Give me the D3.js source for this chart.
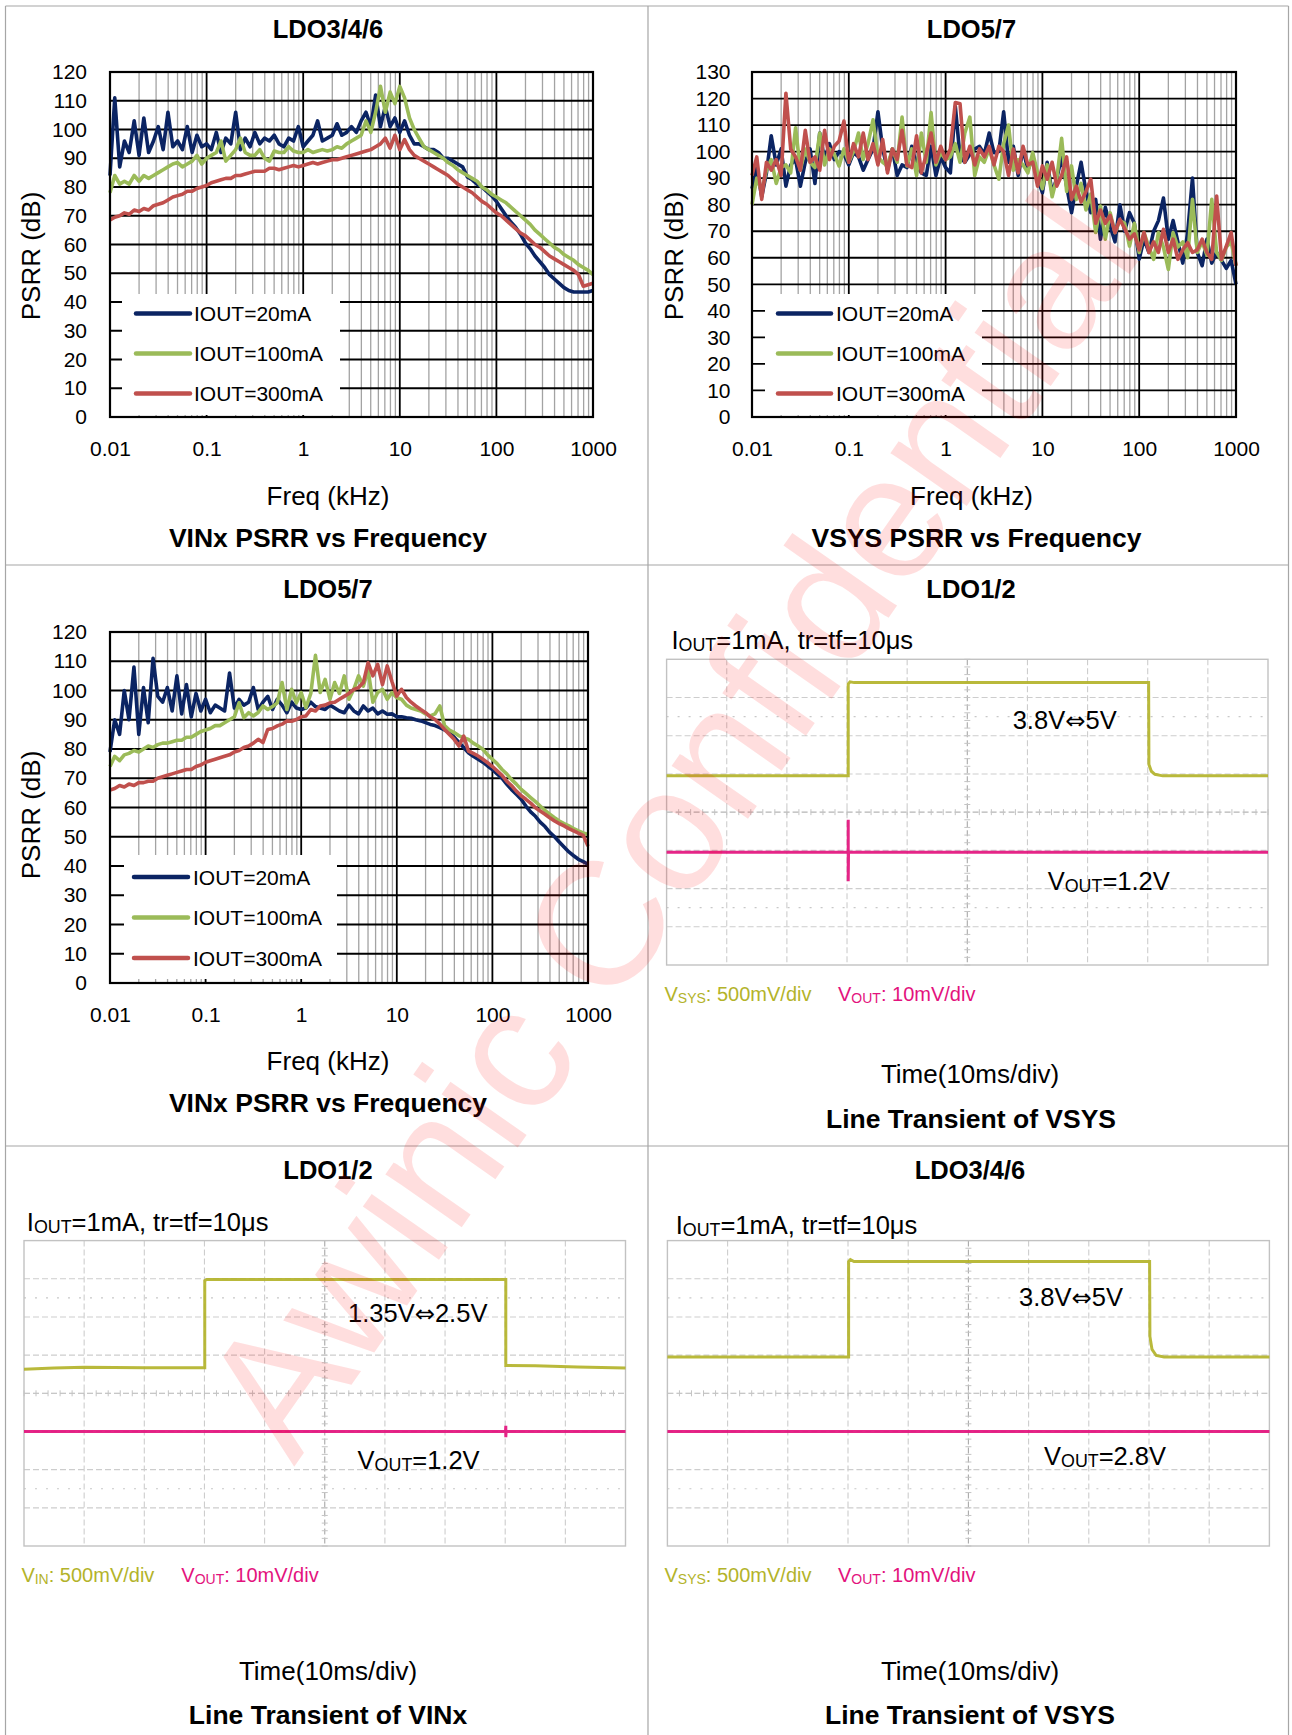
<!DOCTYPE html>
<html>
<head>
<meta charset="utf-8">
<script src="https://cdn.jsdelivr.net/npm/d3@7"></script>
<style>
  body { margin: 0; background: #fff; }
  svg text { font-family: "Liberation Sans", Arial, sans-serif; }
</style>
</head>
<body>
<script>
const W = 1292, H = 1735;

// sweep points of the analyser (kHz), shared by all PSRR plots
const freqKHz = [
  0.01,0.0112,0.0126,0.0141,0.0158,0.0178,0.02,0.0224,0.0251,0.0282,0.0316,0.0355,0.0398,0.0447,0.0501,0.0562,0.0631,0.0708,0.0794,0.0891,
  0.1,0.112,0.126,0.141,0.158,0.178,0.2,0.224,0.251,0.282,0.316,0.355,0.398,0.447,0.501,0.562,0.631,0.708,0.794,0.891,
  1,1.12,1.26,1.41,1.58,1.78,2,2.24,2.51,2.82,3.16,3.55,3.98,4.47,5.01,5.62,6.31,7.08,7.94,8.91,
  10,11.2,12.6,14.1,15.8,17.8,20,22.4,25.1,28.2,31.6,35.5,39.8,44.7,50.1,56.2,63.1,70.8,79.4,89.1,
  100,112,126,141,158,178,200,224,251,282,316,355,398,447,501,562,631,708,794,891,1000
];
const xTickVals = [0.01, 0.1, 1, 10, 100, 1000];
const xTickLabels = ["0.01", "0.1", "1", "10", "100", "1000"];
const seriesNames = ["IOUT=20mA", "IOUT=100mA", "IOUT=300mA"];
const seriesColors = ["#0b2463", "#9bbb59", "#c0504d"];

// LDO3/4/6, VINx PSRR (dB)
const vinx346_20mA = [84,111,87,96,92,103,91,104,92,96, 101,93,106,94,96,93,101,92,98,94, 95,93,99,92,97,95,106,93,97,94,
  99,95,97,96,98,95,94,97,96,101, 94,96,98,103,96,97,98,102,98,99, 101,99,103,106,101,112,101,108,101,104,
  99,103,98,95,95,94,93,93,92,90, 90,89,88,87,83.5,82.5,81,80,78.5,77, 75,72.5,70,67.8,66,63.5,60.5,58.5,56,54,
  52,49.5,48,46.5,45,44,43.5,43.5,43.5,43.5, 44];
const vinx346_100mA = [78,84,81,82,81,84,82,84,83,84, 85,86,87,88,88.5,87,88,89,91,88, 90,91,92,96,89,91,93,97,92,91,
  91,93,90,89,92.5,92,92,94,92.5,92, 92,93,92,92.5,93,92.5,93,94,93.5,95, 96,97,98,103,99,106,115,106,113,109,
  115,111,104,100,97,94,93,92,91,90, 88.5,87.5,86,85,84,83,82,80,79,77.5, 76.5,75.5,74.5,73,71.5,70,68.5,67,65,63.5,
  62,60.5,59,58,56.5,55.5,54.5,53,52,51, 49.5];
const vinx346_300mA = [68.5,69.5,70,71,70.5,72,71.5,72.5,72,73.5, 74,74.5,75.5,76.5,77,77.5,78.5,78.5,79.5,80, 80.5,81.5,82,82.5,83,83,84,84,84.5,85,
  85.5,85.5,85.5,86.5,86.5,86,86.5,87,87.5,87, 87.5,88,88.5,88,88.5,89,89.5,89.5,90,90.5, 91,91.5,92,92.5,93,94,95,97,93.5,98,
  93,96.5,93,91,90,89,88,87,86,85, 84,82.5,81,80,79,78,76.5,75,74,72.5, 71,70,68.5,67,65.5,64,63,61.5,60,59,
  57.5,56,55,54,53,52,51,49.5,45.5,46, 46.5];

// LDO5/7, VSYS PSRR (dB)
const vsys57_20mA = [86,94,83,92,106,95,101,87,95,97, 87,96,101,88,107,97,103,97,100,99, 95,99.6,98,93,97,101,115,101,93,101,
  91,95,94,102,95,92,91,102,91,98, 94,92,117,98,96,99,101,102,99,107, 99.6,100,115,96,102,91,101,93,98,90,
  84.5,96,84.5,90,98,87,77,87,96,85, 77,82,67,79,72,66,80,70,77,73, 59.5,67,62,70,74,82.5,67,74,66,58,
  69,90,62,57,67,58,62,59,56,59, 50];
const vsys57_100mA = [80,90,85,93,97,88,94,95,92,109, 93,101,96,94,107,95,101,99,94.6,101, 96,100,107,97,103,112,98,96,94.6,101,
  96,113,94.6,101,91,107,96,114.7,95,99.6, 97,98,103,96,107,113,91,98,96,101, 95,89.6,103,110,93,97,95,92,99.6,92,
  86,95,83,90,105,85,94.6,82,88,78, 84,69.5,79.5,67,77,69.5,74,73,64.4,73, 62,69.5,64,59.4,69.5,64,55.6,69.5,64,66,
  60,82,62,66,61,82,62,59,64,66, 57];
const vsys57_300mA = [91,98,82,96,93,97,91,122,101,98, 93,108,96,98,93,108,97,102,104,111.5, 96,103,98,107,97,103,95,104.6,92,101,
  97,108,95,94,106,92,99,107,96,102, 97,101,118.5,118,96,102,95,101,98,102, 95,102,100,91,101,92,102,95,96,87,
  94.6,89.6,96,87,91,98,82,87,81,85, 89.6,73,78,73,76,69.5,74.5,71,67,69, 63,69.5,62,66,62,70.7,62,67,59.4,63,
  65.7,62,63,67,62,59.4,83.3,59.4,64.4,69.5, 57];

// LDO5/7, VINx PSRR (dB)
const vinx57_20mA = [79,90,85,100,90,108,85,101,89,111, 98,96,101,93,105,92,102,91,99,93, 97,92.4,95,94,93,106,94,97,95,96,
  101,93.5,96,98,93.5,97,95,92.4,96,94, 93.5,94,96,94.5,94,93.5,95,94,93,92.4, 95,93,92,94.7,93,94,92,93,91.9,92,
  91,91,90.7,90.5,90,89.6,89,88.4,88,87.3, 86.5,85.6,84,82.2,80.5,78.7,77.5,76.5,75.5,74.2, 73,71.5,70,68,66.2,64.5,62.8,60.5,58.5,57,
  55,53.5,51.5,50,48.2,46.5,44.8,43.5,42.3,41.5, 40.6];
const vinx57_100mA = [74,77.5,76,78,78.5,79.5,79,80,81,80.5, 81.5,82,82,82.5,83,83,84,84,85,86, 86.5,87,88,88,89,90,91,95.8,90.7,92.4,
  91.3,92.5,94.7,93.5,94.5,95.8,102.7,93.5,100.4,95.8, 99.3,94.1,99,112,99.3,103.8,97,102.7,99,105, 97,100.4,105,101.5,107,96,99.3,100.4,97,99.3,
  97.5,97,95,94,93.5,93,92,91.3,92,94.7, 88,86.5,85.6,84.5,83.9,83.3,82,81,79.9,78, 76.5,75,73,71.5,69.6,68,66.2,64.8,63.4,62,
  60.5,59,57.7,56.5,55.4,54.5,53.7,52.8,52,51.3, 50.8];
const vinx57_300mA = [66,66.5,67.5,67,68,67.5,68.5,68.5,69,69, 70,70.5,71,71.5,72,72.5,73,73,74,74.5, 75.5,76,76.5,77,77.5,78,79,79.5,80.5,81,
  82,83.3,82.2,86.7,87,87.9,88.5,89.6,89.5,90.1, 91,91.3,93.5,93,94.7,95,95.8,96,97,98, 99,100.4,101,102.7,109.5,105,108.9,102,108.4,103,
  98.1,100.4,97.6,96,94.7,93.5,92.4,91,90.1,88.5, 86.7,85,83.3,81,84.4,79.3,78.5,77.6,76.5,75.3, 74,72.5,71,69,67.5,65.6,64,62.8,61.5,59.9,
  58.8,57.7,56.5,55.4,54.5,53.7,52.8,52,51.2,50.5, 46.8];

// scope captures: [time ms, volts]
const ldo12VsysIn  = [[0,3.8],[30.2,3.8],[30.2,5.0],[30.5,5.03],[31.2,5.02],[80.15,5.02],[80.2,3.95],[80.6,3.86],[81.2,3.82],[82.5,3.8],[100,3.8]];
const ldo12VsysOut = [[0,1.2],[30.2,1.2],[30.2,1.2085],[30.2,1.1924],[30.25,1.2],[100,1.2]];
const ldo12VinIn   = [[0,1.34],[5,1.355],[10,1.365],[20,1.36],[30.05,1.36],[30.05,2.5],[30.4,2.515],[80.1,2.515],[80.1,1.39],[85,1.385],[92,1.37],[100,1.355]];
const ldo12VinOut  = [[0,1.2],[80.05,1.2],[80.1,1.2015],[80.1,1.1985],[80.15,1.2],[100,1.2]];
const ldo346VsysIn = [[0,3.8],[30.1,3.8],[30.1,5.05],[30.4,5.075],[31,5.05],[80.1,5.05],[80.15,4.07],[80.5,3.9],[81.2,3.82],[82.5,3.8],[100,3.8]];
const ldo346VsysOut = [[0,2.8],[100,2.8]];

const yellow = "#b3b32a", magenta = "#e3127d";

const svg = d3.select("body").append("svg").attr("width", W).attr("height", H);
svg.append("rect").attr("width", W).attr("height", H).attr("fill", "#fff");

// table frame
const colX = [5.5, 648, 1288.5], rowY = [6, 565, 1146];
svg.selectAll(".vline").data(colX).join("line")
  .attr("x1", d => d).attr("x2", d => d).attr("y1", 6).attr("y2", H)
  .attr("stroke", "#a6a6a6").attr("stroke-width", 1.2);
svg.selectAll(".hline").data(rowY).join("line")
  .attr("x1", 5.5).attr("x2", 1288.5).attr("y1", d => d).attr("y2", d => d)
  .attr("stroke", "#a6a6a6").attr("stroke-width", 1.2);

const psrrPanels = [
  { title: "LDO3/4/6", caption: "VINx PSRR vs Frequency", yMax: 120,
    series: [vinx346_20mA, vinx346_100mA, vinx346_300mA],
    box: {x0: 110, x1: 593, y0: 72, y1: 417}, titleX: 328, titleY: 38, midX: 328, freqY: 504.5, capX: 328, capY: 547,
    yLab: {x: 40, y: 256}, tickPad: 23,
    legend: {x0: 122, x1: 340, y0: 294, y1: 415, rows: [313.5, 353.5, 393.5], lx0: 136, lx1: 190, tx: 194} },
  { title: "LDO5/7", caption: "VSYS PSRR vs Frequency", yMax: 130,
    series: [vsys57_20mA, vsys57_100mA, vsys57_300mA],
    box: {x0: 752, x1: 1236, y0: 72, y1: 417}, titleX: 971.5, titleY: 38, midX: 971.5, freqY: 504.5, capX: 976.5, capY: 547,
    yLab: {x: 683, y: 256}, tickPad: 21.5,
    legend: {x0: 765, x1: 982, y0: 294, y1: 415, rows: [313.5, 353.5, 393.5], lx0: 778, lx1: 831, tx: 836} },
  { title: "LDO5/7", caption: "VINx PSRR vs Frequency", yMax: 120,
    series: [vinx57_20mA, vinx57_100mA, vinx57_300mA],
    box: {x0: 110, x1: 588, y0: 632, y1: 983}, titleX: 328, titleY: 598, midX: 328, freqY: 1070, capX: 328, capY: 1112,
    yLab: {x: 40, y: 815}, tickPad: 23,
    legend: {x0: 124, x1: 337, y0: 855, y1: 979, rows: [877, 917.5, 958], lx0: 134, lx1: 188, tx: 193} }
];

function isDecade(v) {
  const l = Math.log10(v);
  return Math.abs(l - Math.round(l)) < 1e-9;
}

function drawPsrr(p) {
  const g = svg.append("g");
  const b = p.box;
  const x = d3.scaleLog().domain([0.01, 1000]).range([b.x0, b.x1]);
  const y = d3.scaleLinear().domain([0, p.yMax]).range([b.y1, b.y0]);

  // minor grid (2..9 of each decade)
  g.selectAll(".minor").data(x.ticks().filter(v => !isDecade(v))).join("line")
    .attr("x1", d => x(d)).attr("x2", d => x(d)).attr("y1", b.y0).attr("y2", b.y1)
    .attr("stroke", "#a3a3a3").attr("stroke-width", 1.3);
  // major grid
  g.selectAll(".majx").data(xTickVals).join("line")
    .attr("x1", d => x(d)).attr("x2", d => x(d)).attr("y1", b.y0).attr("y2", b.y1)
    .attr("stroke", "#000").attr("stroke-width", 1.8);
  g.selectAll(".majy").data(y.ticks(p.yMax / 10)).join("line")
    .attr("x1", b.x0).attr("x2", b.x1).attr("y1", d => y(d)).attr("y2", d => y(d))
    .attr("stroke", "#000").attr("stroke-width", 1.8);

  const line = d3.line().x((d, i) => x(freqKHz[i])).y(d => y(d));
  p.series.forEach((s, i) => {
    g.append("path").attr("d", line(s)).attr("fill", "none")
      .attr("stroke", seriesColors[i]).attr("stroke-width", 3.6)
      .attr("stroke-linejoin", "round");
  });

  // legend
  const L = p.legend;
  g.append("rect").attr("x", L.x0).attr("y", L.y0).attr("width", L.x1 - L.x0).attr("height", L.y1 - L.y0)
    .attr("fill", "#fff");
  L.rows.forEach((ry, i) => {
    g.append("line").attr("x1", L.lx0).attr("x2", L.lx1).attr("y1", ry).attr("y2", ry)
      .attr("stroke", seriesColors[i]).attr("stroke-width", 4.5).attr("stroke-linecap", "round");
    g.append("text").attr("x", L.tx).attr("y", ry + 7.5).attr("font-size", 21).text(seriesNames[i]);
  });

  g.append("rect").attr("x", b.x0).attr("y", b.y0).attr("width", b.x1 - b.x0).attr("height", b.y1 - b.y0)
    .attr("fill", "none").attr("stroke", "#000").attr("stroke-width", 2.2);

  // axes (labels only)
  const ya = g.append("g").attr("transform", `translate(${b.x0},0)`)
    .call(d3.axisLeft(y).tickValues(d3.range(0, p.yMax + 1, 10)).tickSize(0).tickPadding(p.tickPad));
  ya.select(".domain").remove();
  ya.attr("font-family", null).attr("font-size", 21);
  ya.selectAll("text").attr("fill", "#000");

  const xa = g.append("g").attr("transform", `translate(0,${b.y1})`)
    .call(d3.axisBottom(x).tickValues(xTickVals).tickFormat((d, i) => xTickLabels[i]).tickSize(0).tickPadding(24));
  xa.select(".domain").remove();
  xa.attr("font-family", null).attr("font-size", 21);
  xa.selectAll("text").attr("fill", "#000");

  g.append("text").attr("x", p.titleX).attr("y", p.titleY).attr("text-anchor", "middle")
    .attr("font-size", 25.5).attr("font-weight", "bold").text(p.title);
  g.append("text").attr("x", p.midX).attr("y", p.freqY).attr("text-anchor", "middle")
    .attr("font-size", 26).text("Freq (kHz)");
  g.append("text").attr("x", p.capX).attr("y", p.capY).attr("text-anchor", "middle")
    .attr("font-size", 26.5).attr("font-weight", "bold").text(p.caption);
  g.append("text").attr("transform", `translate(${p.yLab.x},${p.yLab.y}) rotate(-90)`)
    .attr("text-anchor", "middle").attr("font-size", 26).text("PSRR (dB)");
}

// text with styled pieces: parts = [[string, kind], ...] kind: 0 normal, 1 subscript, 2 arrow glyph
function richText(g, x, y, parts, size, color, anchor) {
  const t = g.append("text").attr("x", x).attr("y", y).attr("font-size", size)
    .attr("fill", color || "#000").attr("text-anchor", anchor || "start");
  let wasSub = false;
  parts.forEach(([s, kind]) => {
    const ts = t.append("tspan").text(s);
    const sub = kind === 1;
    if (sub) ts.attr("font-size", size * 0.7).attr("dy", wasSub ? 0 : 2);
    else if (wasSub) ts.attr("dy", -2);
    if (kind === 2) ts.attr("font-family", "DejaVu Sans").attr("font-size", size * 0.95);
    wasSub = sub;
  });
  return t;
}

const scopePanels = [
  { title: "LDO1/2", titleX: 971, titleY: 598, grid: {x0: 666.6, x1: 1268, y0: 659.3, y1: 965},
    cond: {x: 671.5, y: 649}, swing: {a: "3.8V", b: "5V", x: 1012.7, y: 729}, vout: {text: "=1.2V", x: 1047.7, y: 890},
    inName: "SYS", legY: 1001, legX: [664.5, 838], timeX: 970, timeY: 1083, caption: "Line Transient of VSYS", capX: 971, capY: 1128,
    traces: [{data: ldo12VsysIn, ref: 3.8, refDiv: 4.95, vdiv: 0.5, color: yellow},
             {data: ldo12VsysOut, ref: 1.2, refDiv: 2.95, vdiv: 0.01, color: magenta}] },
  { title: "LDO1/2", titleX: 328, titleY: 1179, grid: {x0: 24, x1: 625.5, y0: 1240.6, y1: 1546},
    cond: {x: 26.8, y: 1231}, swing: {a: "1.35V", b: "2.5V", x: 348, y: 1322}, vout: {text: "=1.2V", x: 357.6, y: 1469},
    inName: "IN", legY: 1582, legX: [21.4, 181.3], timeX: 328, timeY: 1680, caption: "Line Transient of VINx", capX: 328, capY: 1724,
    traces: [{data: ldo12VinIn, ref: 1.35, refDiv: 4.65, vdiv: 0.5, color: yellow},
             {data: ldo12VinOut, ref: 1.2, refDiv: 3.0, vdiv: 0.01, color: magenta}] },
  { title: "LDO3/4/6", titleX: 970, titleY: 1179, grid: {x0: 667.4, x1: 1269.4, y0: 1240.6, y1: 1546},
    cond: {x: 675.7, y: 1234}, swing: {a: "3.8V", b: "5V", x: 1019, y: 1306}, vout: {text: "=2.8V", x: 1044, y: 1465},
    inName: "SYS", legY: 1582, legX: [664.5, 838], timeX: 970, timeY: 1680, caption: "Line Transient of VSYS", capX: 970, capY: 1724,
    traces: [{data: ldo346VsysIn, ref: 3.8, refDiv: 4.95, vdiv: 0.5, color: yellow},
             {data: ldo346VsysOut, ref: 2.8, refDiv: 3.0, vdiv: 0.01, color: magenta}] }
];

function drawScope(p) {
  const g = svg.append("g");
  const b = p.grid;
  const xs = d3.scaleLinear().domain([0, 100]).range([b.x0, b.x1]);
  const yd = d3.scaleLinear().domain([0, 8]).range([b.y1, b.y0]);

  g.selectAll(".vg").data(d3.range(1, 10)).join("line")
    .attr("x1", d => xs(d * 10)).attr("x2", d => xs(d * 10)).attr("y1", b.y0).attr("y2", b.y1)
    .attr("stroke", d => d === 5 ? "#a9a9a9" : "#cdcdcd").attr("stroke-width", 1.1)
    .attr("stroke-dasharray", "6,3");
  g.selectAll(".hg").data(d3.range(1, 8)).join("line")
    .attr("x1", b.x0).attr("x2", b.x1).attr("y1", d => yd(d)).attr("y2", d => yd(d))
    .attr("stroke", d => d === 4 ? "#b5b5b5" : "#cdcdcd").attr("stroke-width", 1.1)
    .attr("stroke-dasharray", "6,3");
  g.selectAll(".dg").data([1.5, 6.5]).join("line")
    .attr("x1", b.x0).attr("x2", b.x1).attr("y1", d => yd(d)).attr("y2", d => yd(d))
    .attr("stroke", "#c8c8c8").attr("stroke-width", 1.2).attr("stroke-dasharray", "2,9");
  // center ticks
  g.selectAll(".ht").data(d3.range(0, 100.01, 2)).join("line")
    .attr("x1", d => xs(d)).attr("x2", d => xs(d)).attr("y1", yd(4) - 3).attr("y2", yd(4) + 3)
    .attr("stroke", "#c4c4c4").attr("stroke-width", 1);
  g.selectAll(".vt").data(d3.range(0, 8.01, 0.2)).join("line")
    .attr("x1", xs(50) - 3).attr("x2", xs(50) + 3).attr("y1", d => yd(d)).attr("y2", d => yd(d))
    .attr("stroke", "#c4c4c4").attr("stroke-width", 1);
  g.append("rect").attr("x", b.x0).attr("y", b.y0).attr("width", b.x1 - b.x0).attr("height", b.y1 - b.y0)
    .attr("fill", "none").attr("stroke", "#c2c2c2").attr("stroke-width", 1.4);

  p.traces.forEach(t => {
    const ys = d3.scaleLinear()
      .domain([t.ref - t.refDiv * t.vdiv, t.ref + (8 - t.refDiv) * t.vdiv]).range([b.y1, b.y0]);
    const line = d3.line().x(d => xs(d[0])).y(d => ys(d[1]));
    g.append("path").attr("d", line(t.data)).attr("fill", "none")
      .attr("stroke", t.color).attr("stroke-width", 3).attr("stroke-opacity", 0.92);
  });

  g.append("text").attr("x", p.titleX).attr("y", p.titleY).attr("text-anchor", "middle")
    .attr("font-size", 25.5).attr("font-weight", "bold").text(p.title);
  richText(g, p.cond.x, p.cond.y, [["I", 0], ["OUT", 1], ["=1mA, tr=tf=10μs", 0]], 25.5);
  richText(g, p.swing.x, p.swing.y, [[p.swing.a, 0], ["⇔", 2], [p.swing.b, 0]], 25.5);
  richText(g, p.vout.x, p.vout.y, [["V", 0], ["OUT", 1], [p.vout.text, 0]], 25.5);
  richText(g, p.legX[0], p.legY, [["V", 0], [p.inName, 1], [": 500mV/div", 0]], 20, yellow);
  richText(g, p.legX[1], p.legY, [["V", 0], ["OUT", 1], [": 10mV/div", 0]], 20, magenta);
  g.append("text").attr("x", p.timeX).attr("y", p.timeY).attr("text-anchor", "middle")
    .attr("font-size", 26).text("Time(10ms/div)");
  g.append("text").attr("x", p.capX).attr("y", p.capY).attr("text-anchor", "middle")
    .attr("font-size", 26.5).attr("font-weight", "bold").text(p.caption);
}

psrrPanels.forEach(drawPsrr);
scopePanels.forEach(drawScope);

// watermark
svg.append("text")
  .attr("transform", "translate(669,824) rotate(-55)")
  .attr("text-anchor", "middle").attr("dy", "0.35em")
  .attr("font-size", 176).attr("fill", "#ff0000").attr("fill-opacity", 0.13)
  .text("Awinic Confidential");
</script>
</body>
</html>
